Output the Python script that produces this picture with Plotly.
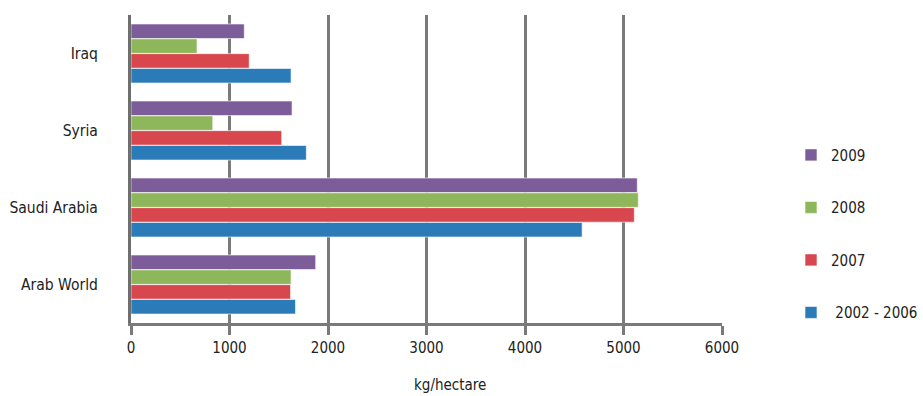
import plotly.graph_objects as go

categories = ["Iraq", "Syria", "Saudi Arabia", "Arab World"]
series_names = ["2009", "2008", "2007", " 2002 - 2006"]
v2009 = [1150, 1635, 5140, 1875]
v2008 = [670, 830, 5150, 1625]
v2007 = [1200, 1530, 5110, 1620]
v2002_2006 = [1625, 1780, 4580, 1670]
colors = ["#7d5c9a", "#8db75a", "#d8474d", "#2b7bb9"]
x_ticks = [0, 1000, 2000, 3000, 4000, 5000, 6000]

FONT = "DejaVu Sans Condensed"

fig = go.Figure()
for i, (name, vals) in enumerate(zip(series_names, [v2009, v2008, v2007, v2002_2006])):
    fig.add_trace(go.Bar(
        y=categories, x=vals, name=name, orientation="h",
        marker=dict(color=colors[i], line=dict(color="white", width=0.6)),
        legendgroup=name,
    ))

fig.update_layout(
    width=923, height=396,
    margin=dict(l=131, r=201, t=15, b=73),
    paper_bgcolor="white", plot_bgcolor="white",
    barmode="group", bargap=0.23, bargroupgap=0.02,
    font=dict(family=FONT, size=15, color="#222222"),
    showlegend=True,
    legend=dict(xref="container", yref="container", x=0.857, y=0.41,
                xanchor="left", yanchor="middle",
                tracegroupgap=30,
                font=dict(size=15, family=FONT),
                itemwidth=30, bgcolor="rgba(0,0,0,0)"),
    xaxis=dict(range=[0, 6000], tickvals=x_ticks, showgrid=True,
               gridcolor="#7a7a7a", gridwidth=3, zeroline=False,
               showline=True, linecolor="#7a7a7a", linewidth=3,
               ticks="outside", ticklen=9, tickwidth=3, tickcolor="#7a7a7a",
               automargin=False,
               tickfont=dict(size=15, family=FONT, color="#222222")),
    yaxis=dict(autorange="reversed", showgrid=False, showline=True,
               linecolor="#6f6f6f", linewidth=3, ticks="",
               ticklabelstandoff=27, automargin=False,
               tickfont=dict(size=15.5, family=FONT, color="#222222")),
    annotations=[dict(text="kg/hectare", xref="paper", yref="paper",
                      x=0.54, y=-0.2, xanchor="center", yanchor="middle",
                      showarrow=False, font=dict(size=15, family=FONT, color="#222222"))],
)

fig.write_html("out.html")
